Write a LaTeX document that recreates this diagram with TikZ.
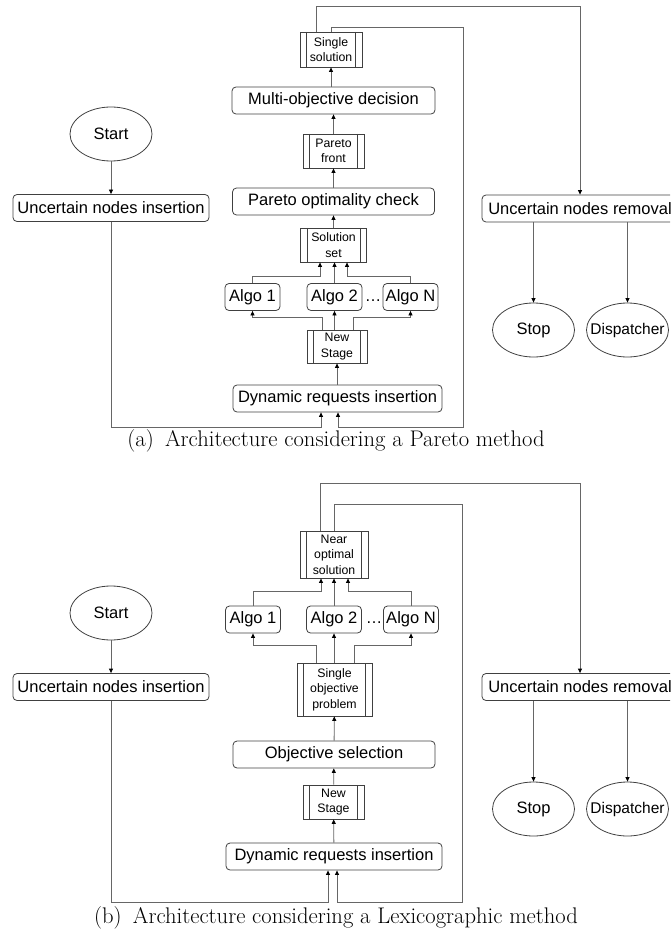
\documentclass[tikz,border=0pt]{standalone}
\usepackage{fontspec}
\newfontfamily\diafont{Liberation Sans}
\usetikzlibrary{arrows.meta, shapes.geometric}

\begin{document}
\begin{tikzpicture}[
        x=1pt, y=-1pt,
        font=\diafont\fontsize{16.5}{19}\selectfont,
        line width=0.8pt,
        box/.style={draw=black!75, rounded corners=4pt, minimum width=#1, minimum height=27pt, inner sep=1pt},
        box/.default=55pt,
        proc/.style 2 args={draw=black!75, minimum width=#1, minimum height=#2, inner sep=0pt, align=center,
            font=\diafont\fontsize{12.3}{15.5}\selectfont,
            path picture={\draw[black!75]
                ([xshift=6.5pt]path picture bounding box.north west) -- ([xshift=6.5pt]path picture bounding box.south west)
                ([xshift=-6.5pt]path picture bounding box.north east) -- ([xshift=-6.5pt]path picture bounding box.south east);}},
        term/.style={draw=black!75, ellipse, minimum width=82pt, minimum height=54pt, inner sep=-12pt},
        lnk/.style={draw=black!60, ->},
        capt/.style={font=\rmfamily\fontsize{22.6}{26}\selectfont},
        >={Triangle[length=4.5pt, width=4pt, color=black]}
      ]
        \useasboundingbox (0,0) rectangle (670,933);
        \clip (0,0) rectangle (670,933);

        % (a) Pareto method
        \node[term] (start1) at (111,134) {Start};
        \node[box=196pt] (insert1) at (111,208) {Uncertain nodes insertion};
        \node[box=196pt] (remove1) at (580,208.5) {Uncertain nodes removal};
        \node[term] (stop1) at (533.5,330) {Stop};
        \node[term, font=\diafont\fontsize{15.5}{18}\selectfont] (disp1) at (627.5,330) {Dispatcher};

        \node[proc={62pt}{35pt}] (solo1) at (331,49.5) {Single\\solution};
        \node[box=203pt] (mdec1) at (333.5,100.5) {Multi-objective decision};
        \node[proc={61pt}{34pt}] (front1) at (333.5,151) {Pareto\\front};
        \node[box=202pt] (pcheck1) at (333.5,201.5) {Pareto optimality check};
        \node[proc={66pt}{34pt}] (solset1) at (333.5,245) {Solution\\set};
        \node[box] (algoA1) at (252.5,297) {Algo 1};
        \node[box] (algoB1) at (334.5,297) {Algo 2};
        \node[anchor=base, inner sep=0pt] (dots1) at ([xshift=38.5pt]algoB1.base) {\ldots};
        \node[box] (algoC1) at (410.5,297) {Algo N};
        \node[proc={60pt}{33pt}] (stage1) at (337,346.5) {New\\Stage};
        \node[box=209pt] (dyn1) at (337.5,398.5) {Dynamic requests insertion};
        \node[capt] (capA) at (336,441) {(a)\enspace Architecture considering a Pareto method};

        \coordinate (top1) at (0,6);
        \coordinate (ring1) at (463,27);
        \coordinate (base1) at (0,427);
        \coordinate (outS1) at ([xshift=-15pt]solo1.north);
        \coordinate (inL1) at ([xshift=-16.5pt]dyn1.south);
        \coordinate (inR1) at ([xshift=0.5pt]dyn1.south);
        \coordinate (inA1) at ([xshift=-13.5pt]solset1.south);
        \coordinate (inC1) at ([xshift=13.5pt]solset1.south);
        \coordinate (outA1) at ([xshift=-15pt]stage1.north);
        \coordinate (outC1) at ([xshift=16pt]stage1.north);

        \draw[lnk] (start1) -- (insert1);
        \draw[lnk] (insert1.south) |- (inL1 |- base1) -- (inL1);
        \draw[lnk] (dyn1.north -| stage1) -- (stage1);
        \draw[lnk] (outA1) -- ++(0,-12) -| (algoA1.south);
        \draw[lnk] (stage1.north -| algoB1) -- (algoB1);
        \draw[lnk] (outC1) -- ++(0,-12) -| (algoC1.south);
        \draw[lnk] (algoA1.north) -- ++(0,-6.5) -| (inA1);
        \draw[lnk] (algoB1.north) -- (algoB1.north |- solset1.south);
        \draw[lnk] (algoC1.north) -- ++(0,-6.5) -| (inC1);
        \draw[lnk] (solset1) -- (pcheck1);
        \draw[lnk] (pcheck1) -- (front1);
        \draw[lnk] (front1) -- (mdec1);
        \draw[lnk] (mdec1.north -| solo1) -- (solo1);
        \draw[lnk] (outS1) |- (top1 -| remove1) -- (remove1.north);
        \draw[lnk] (solo1.north) |- (ring1) |- (inR1 |- base1) -- (inR1);
        \draw[lnk] (remove1.south -| stop1) -- (stop1);
        \draw[lnk] (remove1.south -| disp1) -- (disp1);

        % (b) Lexicographic method
        \node[term] (start2) at (111,613) {Start};
        \node[box=196pt] (insert2) at (111,687) {Uncertain nodes insertion};
        \node[box=196pt] (remove2) at (580,687) {Uncertain nodes removal};
        \node[term] (stop2) at (533.5,809) {Stop};
        \node[term, font=\diafont\fontsize{15.5}{18}\selectfont] (disp2) at (627.5,809) {Dispatcher};

        \node[proc={68pt}{47pt}] (near2) at (334,554.5) {Near\\optimal\\solution};
        \node[box] (algoA2) at (253,619.5) {Algo 1};
        \node[box] (algoB2) at (334,619.5) {Algo 2};
        \node[anchor=base, inner sep=0pt] (dots2) at ([xshift=40pt]algoB2.base) {\ldots};
        \node[box] (algoC2) at (411,619.5) {Algo N};
        \node[proc={75pt}{53pt}] (sobj2) at (334.5,689.5) {Single\\objective\\problem};
        \node[box=202pt] (osel2) at (334,754.5) {Objective selection};
        \node[proc={61pt}{34pt}] (stage2) at (333.5,802) {New\\Stage};
        \node[box=216pt] (dyn2) at (334,856.5) {Dynamic requests insertion};
        \node[capt] (capB) at (336,918) {(b)\enspace Architecture considering a Lexicographic method};

        \coordinate (top2) at (0,483);
        \coordinate (ring2) at (462,504);
        \coordinate (base2) at (0,902);
        \coordinate (outS2) at ([xshift=-14pt]near2.north);
        \coordinate (inL2) at ([xshift=-6pt]dyn2.south);
        \coordinate (inR2) at ([xshift=3pt]dyn2.south);
        \coordinate (inA2) at ([xshift=-13pt]near2.south);
        \coordinate (inC2) at ([xshift=14pt]near2.south);
        \coordinate (outA2) at ([xshift=-18.5pt]sobj2.north);
        \coordinate (outC2) at ([xshift=19.5pt]sobj2.north);

        \draw[lnk] (start2) -- (insert2);
        \draw[lnk] (insert2.south) |- (inL2 |- base2) -- (inL2);
        \draw[lnk] (dyn2) -- (stage2);
        \draw[lnk] (stage2) -- (osel2);
        \draw[lnk] (osel2) -- (sobj2);
        \draw[lnk] (outA2) -- ++(0,-17) -| (algoA2.south);
        \draw[lnk] (sobj2.north -| algoB2) -- (algoB2);
        \draw[lnk] (outC2) -- ++(0,-17) -| (algoC2.south);
        \draw[lnk] (algoA2.north) -- ++(0,-14.5) -| (inA2);
        \draw[lnk] (algoB2) -- (near2);
        \draw[lnk] (algoC2.north) -- ++(0,-14.5) -| (inC2);
        \draw[lnk] (outS2) |- (top2 -| remove2) -- (remove2.north);
        \draw[lnk] (near2.north) |- (ring2) |- (inR2 |- base2) -- (inR2);
        \draw[lnk] (remove2.south -| stop2) -- (stop2);
        \draw[lnk] (remove2.south -| disp2) -- (disp2);
    \end{tikzpicture}
\end{document}
